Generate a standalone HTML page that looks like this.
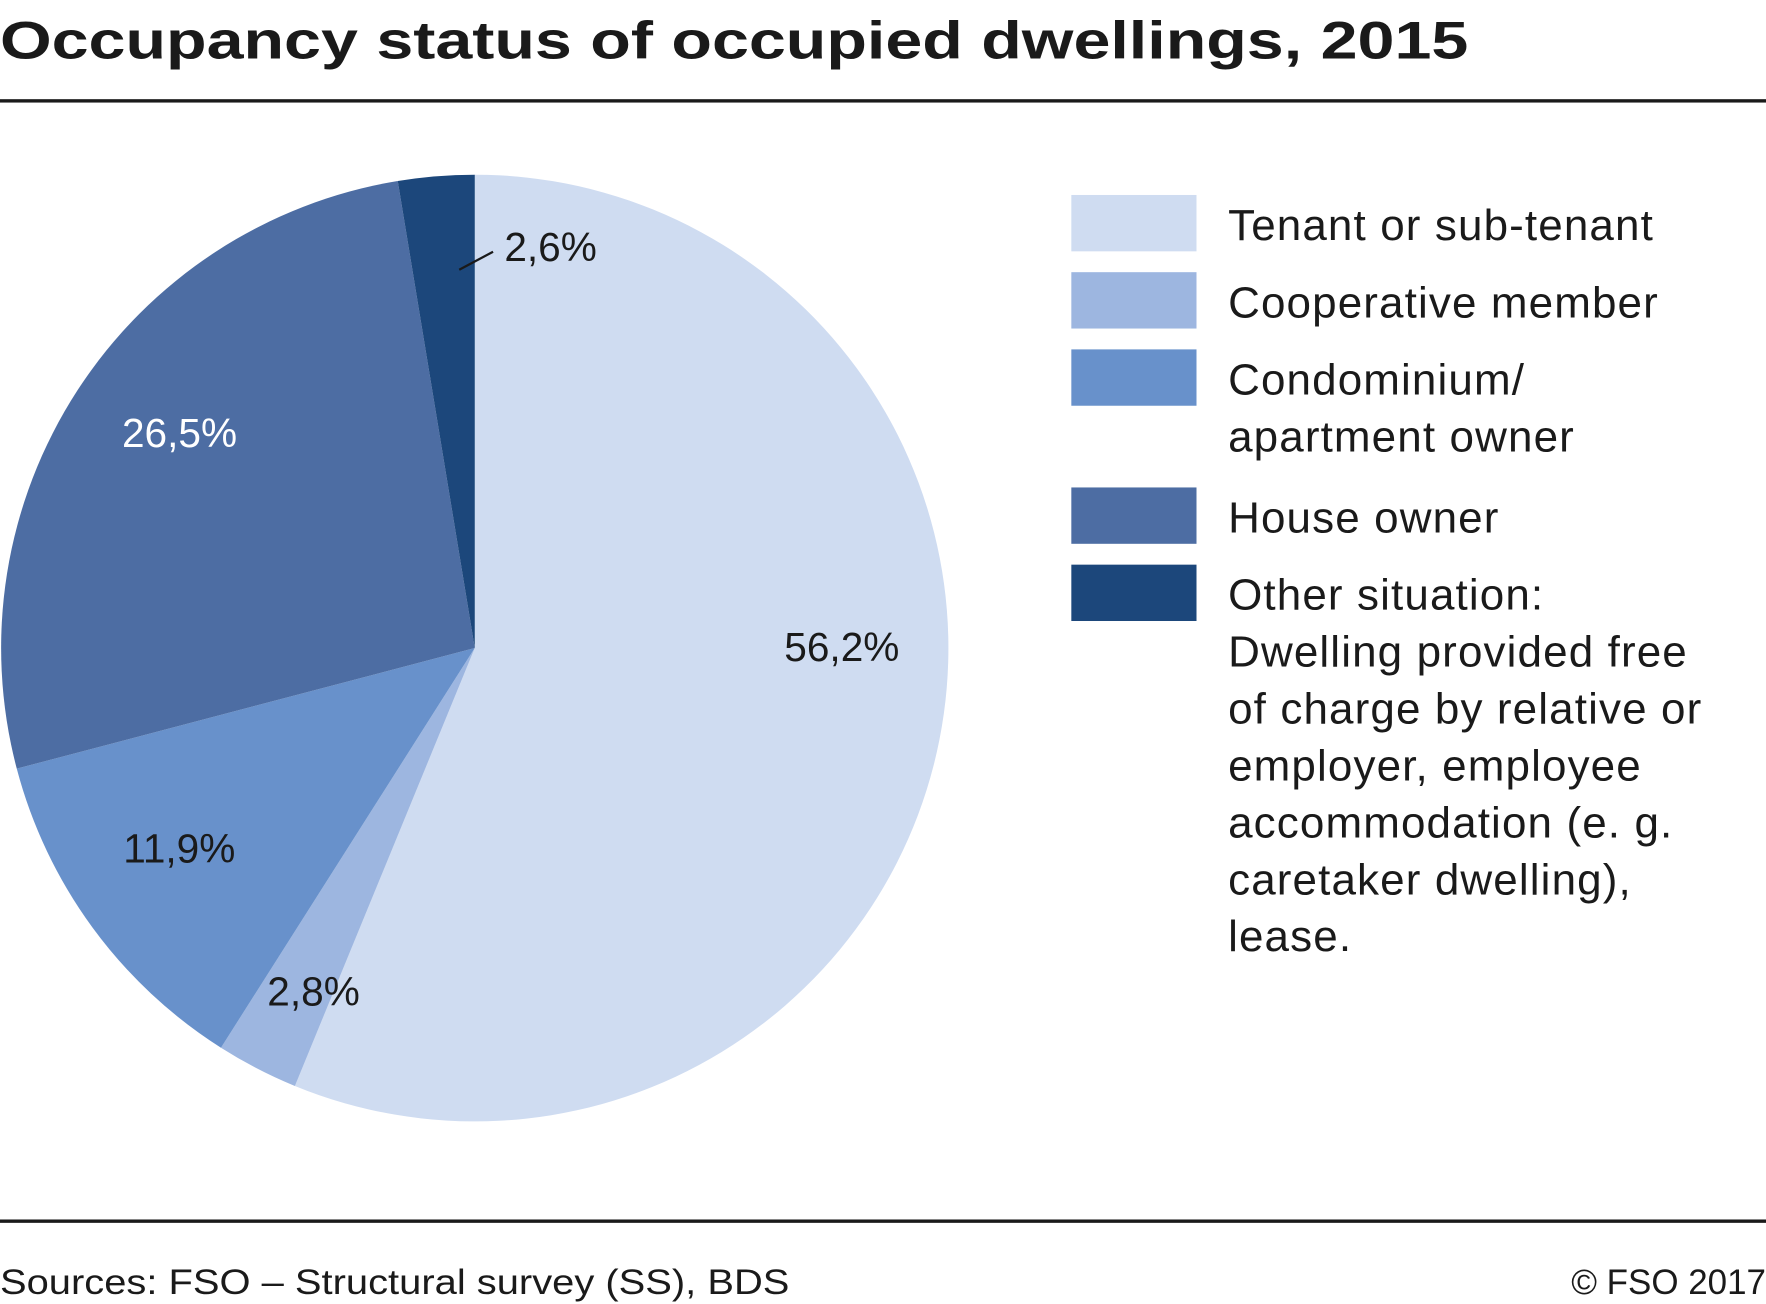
<!DOCTYPE html>
<html><head><meta charset="utf-8"><style>
html,body{margin:0;padding:0;background:#fff;}
svg{display:block;font-family:"Liberation Sans",sans-serif;}
</style></head><body>
<svg id="chart" width="1766" height="1304" viewBox="0 0 1566 1157" preserveAspectRatio="none" xmlns="http://www.w3.org/2000/svg">
<text x="0" y="52" font-size="47" font-weight="bold" fill="#1a1a1a" textLength="1302" lengthAdjust="spacingAndGlyphs">Occupancy status of occupied dwellings, 2015</text>
<rect x="0" y="88" width="1566" height="3" fill="#1a1a1a"/>
<g id="pie"></g>
<g id="labels"></g>
<g id="legend"></g>
<rect x="0" y="1082" width="1566" height="3" fill="#1a1a1a"/>
<text x="0" y="1148" font-size="31" fill="#1a1a1a" textLength="700" lengthAdjust="spacingAndGlyphs">Sources: FSO – Structural survey (SS), BDS</text>
<text x="1566" y="1148" font-size="31" fill="#1a1a1a" text-anchor="end">© FSO 2017</text>
</svg>
<script>
const categories = ["Tenant or sub-tenant","Cooperative member","Condominium/ apartment owner","House owner","Other situation"];
const values = [56.2, 2.8, 11.9, 26.5, 2.6];
const valueLabels = ["56,2%","2,8%","11,9%","26,5%","2,6%"];
const colors = ["#cfdcf1","#9db6e0","#6891cb","#4d6da3","#1c477b"];
const legendLines = [["Tenant or sub-tenant"],["Cooperative member"],["Condominium/","apartment owner"],["House owner"],["Other situation:","Dwelling provided free","of charge by relative or","employer, employee","accommodation (e. g.","caretaker dwelling),","lease."]];

const NS="http://www.w3.org/2000/svg";
const cx=421, cy=575, R=420;
// label placement (layout only): [angle offset rad, radius fraction]
const labelLayout=[[-0.2,0.775],[-0.038,0.80],[0.037,0.753],[0.056,0.772],[0,0]];
const total=values.reduce((a,b)=>a+b,0);
function pt(a,r){return [cx+r*Math.sin(a), cy-r*Math.cos(a)];}
const pie=document.getElementById('pie'), labels=document.getElementById('labels'), legend=document.getElementById('legend');
let acc=0;
values.forEach((v,i)=>{
  const a0=acc/total*2*Math.PI; acc+=v; const a1=acc/total*2*Math.PI;
  const p0=pt(a0,R), p1=pt(a1,R);
  const large=(a1-a0)>Math.PI?1:0;
  const path=document.createElementNS(NS,'path');
  path.setAttribute('d',`M${cx},${cy} L${p0[0]},${p0[1]} A${R},${R} 0 ${large} 1 ${p1[0]},${p1[1]} Z`);
  path.setAttribute('fill',colors[i]);
  
  
  pie.appendChild(path);
  const am=(a0+a1)/2;
  const t=document.createElementNS(NS,'text');
  t.setAttribute('font-size','36');
  
  
  t.textContent=valueLabels[i];
  if(i===values.length-1){
    const q0=pt(am,R*0.84);
    const ln=document.createElementNS(NS,'line');
    ln.setAttribute('x1',q0[0]+15);ln.setAttribute('y1',q0[1]+16);
    ln.setAttribute('x2',q0[0]+45);ln.setAttribute('y2',q0[1]);
    ln.setAttribute('stroke','#1a1a1a');ln.setAttribute('stroke-width','2');
    
    
    labels.appendChild(ln);
    t.setAttribute('x',q0[0]+55);t.setAttribute('y',q0[1]+8);
    t.setAttribute('fill','#1a1a1a');
  } else {
    const L=labelLayout[i];
    const q=pt(am+L[0],R*L[1]);
    t.setAttribute('x',q[0]);t.setAttribute('y',q[1]+13);
    t.setAttribute('text-anchor','middle');
    t.setAttribute('fill', i===3?'#ffffff':'#1a1a1a');
  }
  labels.appendChild(t);
});
let y=173;
legendLines.forEach((lines,i)=>{
  const r=document.createElementNS(NS,'rect');
  r.setAttribute('x',950);r.setAttribute('y',y);r.setAttribute('width',111);r.setAttribute('height',50);
  r.setAttribute('fill',colors[i]);
  
  
  legend.appendChild(r);
  lines.forEach((s,j)=>{
    const t=document.createElementNS(NS,'text');
    t.setAttribute('x',1089);t.setAttribute('y',y+40+j*50.5);
    t.setAttribute('font-size','39');t.setAttribute('fill','#1a1a1a');
    t.setAttribute('letter-spacing','1.0');
    
    
    t.textContent=s;
    legend.appendChild(t);
  });
  y+= lines.length===1?68.5:(lines.length-1)*50.5+72;
});
</script>
</body></html>
